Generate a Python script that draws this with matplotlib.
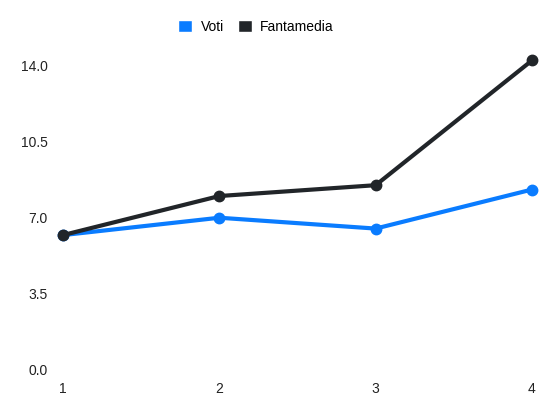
import matplotlib
matplotlib.use("Agg")
import matplotlib.pyplot as plt
from matplotlib.patches import Patch

plt.rcParams['font.family'] = ['Liberation Sans', 'DejaVu Sans']

giornate = [1, 2, 3, 4]
voti = [6.2, 7.0, 6.5, 8.3]
fantamedia = [6.2, 8.0, 8.5, 14.25]
y_ticks = [0.0, 3.5, 7.0, 10.5, 14.0]

blue = '#0a7cff'
dark = '#212529'

fig = plt.figure(figsize=(5.5, 4.12), dpi=100)
ax = fig.add_axes([63/550, 1 - 369.6/412, (532 - 63)/550, (369.6 - 60)/412])

ax.plot(giornate, voti, color=blue, lw=3, marker='o', ms=7.5, clip_on=False, zorder=3)
ax.plot(giornate, fantamedia, color=dark, lw=3, marker='o', ms=7.5, clip_on=False, zorder=4)

ax.set_xlim(1, 4)
ax.set_ylim(0, 14.27)
ax.set_xticks(giornate)
ax.set_xticklabels([str(g) for g in giornate])
ax.set_yticks(y_ticks)
ax.set_yticklabels(['%.1f' % t for t in y_ticks])
ax.tick_params(length=0, labelsize=10, colors='#222222')
ax.tick_params(axis='y', pad=11)
ax.tick_params(axis='x', pad=9)
for s in ax.spines.values():
    s.set_visible(False)

handles = [Patch(facecolor=blue, edgecolor='white', label='Voti'),
           Patch(facecolor=dark, edgecolor='white', label='Fantamedia')]
fig.legend(handles=handles, loc='center', bbox_to_anchor=(256/550, 1 - 27/412),
           ncol=2, frameon=False, fontsize=10, handlelength=1.0, handleheight=1.0,
           handletextpad=0.6, columnspacing=1.0)

fig.savefig('out.png', dpi=100)
